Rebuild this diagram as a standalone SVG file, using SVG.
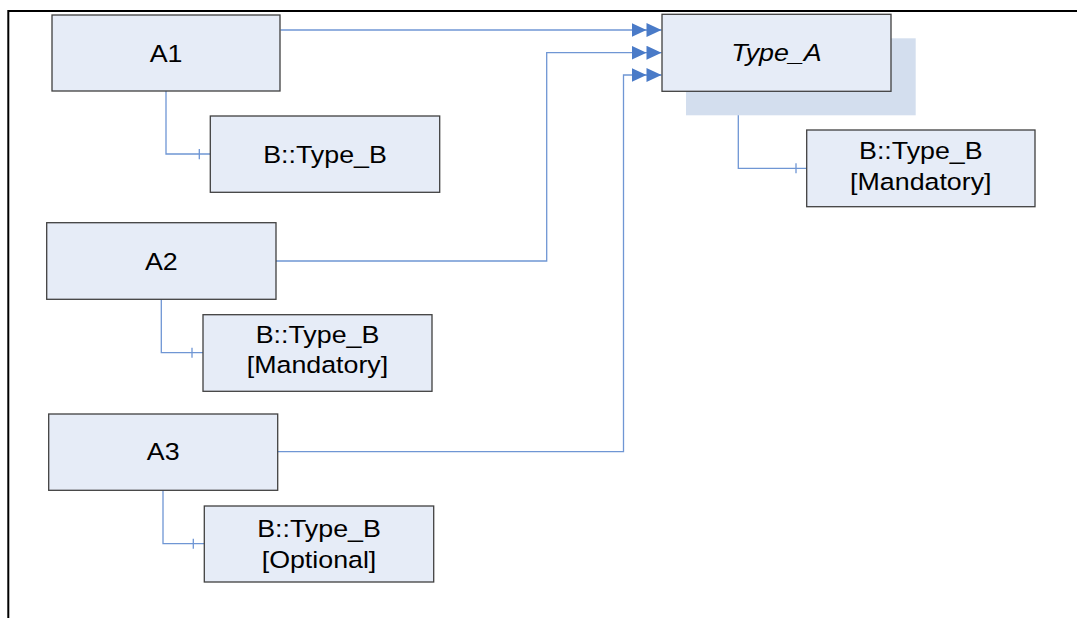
<svg xmlns="http://www.w3.org/2000/svg" width="1077" height="618" viewBox="0 0 1077 618">
<style>
.box{fill:#E6ECF7;stroke:#404040;stroke-width:1.3}
.shadow{fill:#D3DEEE}
.lbl{font-family:"Liberation Sans",Arial,sans-serif;font-size:23.3px;fill:#000;text-anchor:middle}
.it{font-style:italic}
.conn{fill:none;stroke:#6F96D4;stroke-width:1.3}
.frame{fill:none;stroke:#000;stroke-width:2}
</style>
<defs>
<marker id="dbl" markerUnits="userSpaceOnUse" markerWidth="30" markerHeight="14" refX="28" refY="6.5" orient="auto" viewBox="0 0 28 13">
<path d="M0,0 L14,6.5 L0,13 Z M14,0 L28,6.5 L14,13 Z" fill="#4A7BC8"/>
</marker>
</defs>
<rect width="1077" height="618" fill="#fff"/>
<path class="frame" d="M8.3,618 V11 H1077"/>

<g id="connectors">
<path class="conn" d="M280.5,30 H661.5" marker-end="url(#dbl)"/>
<path class="conn" d="M276,261 H546.7 V52.7 H661.5" marker-end="url(#dbl)"/>
<path class="conn" d="M277.7,451.7 H623.5 V75 H661.5" marker-end="url(#dbl)"/>
<path class="conn" d="M166,91 V154 H210.3 M199.3,149 V159.3"/>
<path class="conn" d="M161.3,299.3 V352.7 H203 M192,347.7 V357.7"/>
<path class="conn" d="M163,490.3 V543.7 H204.3 M193.3,538.7 V548.7"/>
<path class="conn" d="M738.3,91.3 V168.3 H806.7 M796,163.3 V173.3"/>
</g>

<g id="A1">
<rect class="box" x="52" y="15" width="228" height="76"/>
<text class="lbl" transform="translate(166,61.7) scale(1.15,1)">A1</text>
</g>
<g id="B1">
<rect class="box" x="210.3" y="116" width="229.4" height="76.3"/>
<text class="lbl" transform="translate(325,163.3) scale(1.15,1)">B::Type_B</text>
</g>
<g id="A2">
<rect class="box" x="46.7" y="222.7" width="229.3" height="76.6"/>
<text class="lbl" transform="translate(161.3,270) scale(1.15,1)">A2</text>
</g>
<g id="B2">
<rect class="box" x="203" y="314.7" width="229" height="76.6"/>
<text class="lbl" transform="translate(317.5,342.7) scale(1.15,1)">B::Type_B</text>
<text class="lbl" transform="translate(317.5,373.3) scale(1.15,1)">[Mandatory]</text>
</g>
<g id="A3">
<rect class="box" x="48.7" y="414" width="229" height="76.3"/>
<text class="lbl" transform="translate(163.2,460) scale(1.15,1)">A3</text>
</g>
<g id="B3">
<rect class="box" x="204.3" y="506" width="229.4" height="76"/>
<text class="lbl" transform="translate(319,536.7) scale(1.15,1)">B::Type_B</text>
<text class="lbl" transform="translate(319,568.3) scale(1.15,1)">[Optional]</text>
</g>
<g id="Type_A">
<rect class="shadow" x="686" y="38.3" width="229.7" height="77"/>
<rect class="box" x="662" y="14.3" width="229" height="77"/>
<text class="lbl it" transform="translate(776.5,60.7) scale(1.15,1)">Type_A</text>
</g>
<g id="B4">
<rect class="box" x="806.7" y="130" width="228.3" height="76.7"/>
<text class="lbl" transform="translate(920.8,159.3) scale(1.15,1)">B::Type_B</text>
<text class="lbl" transform="translate(920.8,189.8) scale(1.15,1)">[Mandatory]</text>
</g>
</svg>
